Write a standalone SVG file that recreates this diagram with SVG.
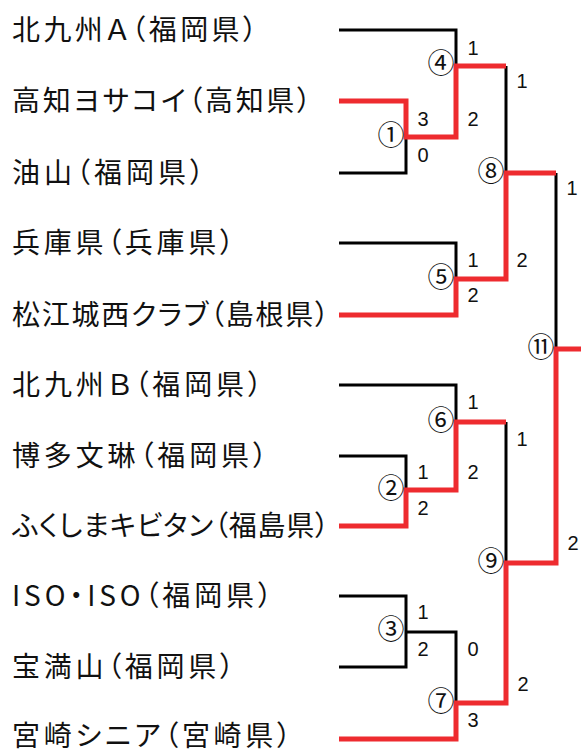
<svg xmlns="http://www.w3.org/2000/svg" width="581" height="751" viewBox="0 0 581 751">
<style>
.team{font-family:"Noto Sans CJK JP","Noto Sans",sans-serif;font-size:28px;fill:#111;font-feature-settings:"palt" 1}
.sc{font-family:"Liberation Sans",Arial,sans-serif;font-size:20px;fill:#111;text-anchor:middle}
.mn{font-family:"Noto Sans CJK JP","DejaVu Sans",sans-serif;font-size:27px;fill:#111;text-anchor:middle}
.k{fill:none;stroke:#000;stroke-width:3}
.r{fill:none;stroke:#ee2b2f;stroke-width:5}
</style>
<rect width="581" height="751" fill="#fff"/>
<g id="teams">
<g id="t1"><text class="team" x="12" y="40" textLength="245">北九州Ａ（福岡県）</text></g>
<g id="t2"><text class="team" x="12" y="111" textLength="299">高知ヨサコイ（高知県）</text></g>
<g id="t3"><text class="team" x="12" y="183" textLength="192">油山（福岡県）</text></g>
<g id="t4"><text class="team" x="12" y="253" textLength="222">兵庫県（兵庫県）</text></g>
<g id="t5"><text class="team" x="12" y="325" textLength="317">松江城西クラブ（島根県）</text></g>
<g id="t6"><text class="team" x="12" y="395" textLength="250">北九州Ｂ（福岡県）</text></g>
<g id="t7"><text class="team" x="12" y="466" textLength="255">博多文琳（福岡県）</text></g>
<g id="t8"><text class="team" x="12" y="536" textLength="317">ふくしまキビタン（福島県）</text></g>
<g id="t9"><text class="team" x="12" y="606" textLength="260">ISO・ISO（福岡県）</text></g>
<g id="t10"><text class="team" x="12" y="677" textLength="222">宝満山（福岡県）</text></g>
<g id="t11"><text class="team" x="12" y="746" textLength="279">宮崎シニア（宮崎県）</text></g>
</g>
<g id="connectors">
<polyline class="k" points="339,30 456,30 456,66"/>
<polyline class="k" points="339,173 406,173 406,137"/>
<polyline class="k" points="339,243 456,243 456,279"/>
<polyline class="k" points="339,385 456,385 456,422"/>
<polyline class="k" points="339,456 406,456 406,490"/>
<polyline class="k" points="339,596 406,596 406,667 339,667"/>
<polyline class="k" points="406,632 456,632 456,703"/>
<polyline class="k" points="506,66 506,173"/>
<polyline class="k" points="506,422 506,563"/>
<polyline class="k" points="556,173 556,349"/>
<polyline class="r" points="339,101 406,101 406,137 456,137 456,66 506,66"/>
<polyline class="r" points="339,315 456,315 456,279 506,279 506,173 556,173"/>
<polyline class="r" points="339,526 406,526 406,490 456,490 456,422 506,422"/>
<polyline class="r" points="339,739 456,739 456,703 506,703 506,563 556,563 556,349 581,349"/>
</g>
<g id="matches">
<g id="m1"><text class="mn" x="391" y="145">①</text><text class="sc" x="423" y="126">3</text><text class="sc" x="423" y="162">0</text></g>
<g id="m2"><text class="mn" x="391" y="498">②</text><text class="sc" x="423" y="479">1</text><text class="sc" x="423" y="515">2</text></g>
<g id="m3"><text class="mn" x="391" y="639">③</text><text class="sc" x="423" y="619">1</text><text class="sc" x="423" y="656">2</text></g>
<g id="m4"><text class="mn" x="441" y="73">④</text><text class="sc" x="473" y="55">1</text><text class="sc" x="473" y="126">2</text></g>
<g id="m5"><text class="mn" x="441" y="287">⑤</text><text class="sc" x="473" y="267">1</text><text class="sc" x="473" y="302">2</text></g>
<g id="m6"><text class="mn" x="441" y="430">⑥</text><text class="sc" x="473" y="409">1</text><text class="sc" x="473" y="479">2</text></g>
<g id="m7"><text class="mn" x="441" y="711">⑦</text><text class="sc" x="473" y="656">0</text><text class="sc" x="473" y="727">3</text></g>
<g id="m8"><text class="mn" x="491" y="181">⑧</text><text class="sc" x="522" y="88">1</text><text class="sc" x="522" y="267">2</text></g>
<g id="m9"><text class="mn" x="491" y="571">⑨</text><text class="sc" x="522" y="446">1</text><text class="sc" x="523" y="691">2</text></g>
<g id="m11"><text class="mn" x="541" y="357">⑪</text><text class="sc" x="572" y="195">1</text><text class="sc" x="573" y="550">2</text></g>
</g>
</svg>
